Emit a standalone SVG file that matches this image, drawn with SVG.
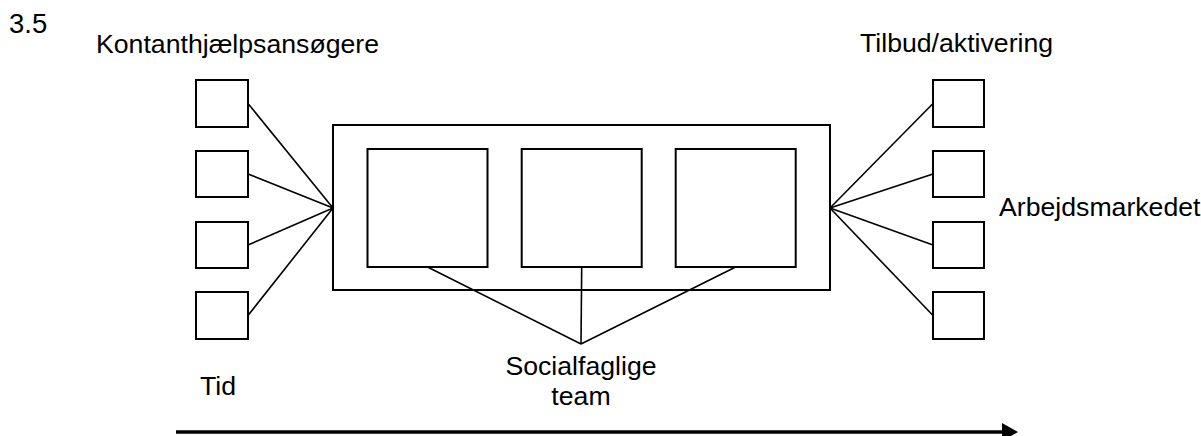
<svg xmlns="http://www.w3.org/2000/svg" width="1201" height="436" viewBox="0 0 1201 436">
<style>
text{font-family:"Liberation Sans",Arial,sans-serif;font-size:26.67px;fill:#000}
.box{fill:#fff;stroke:#000;stroke-width:2}
.con line{stroke:#000;stroke-width:1.6}
</style>
<defs>
<marker id="ah" markerWidth="16" markerHeight="20" refX="1" refY="10" orient="auto" markerUnits="userSpaceOnUse">
<path d="M0,1 L16,10 L0,19 Z" fill="#000"/>
</marker>
</defs>
<rect width="1201" height="436" fill="#fff"/>
<text x="9" y="33" style="font-size:27.5px">3.5</text>
<text x="96" y="53">Kontanthjælpsansøgere</text>
<text x="860" y="52">Tilbud/aktivering</text>
<text x="999" y="216">Arbejdsmarkedet</text>
<text x="200" y="395">Tid</text>
<text x="581" y="375" text-anchor="middle">Socialfaglige</text>
<text x="581" y="405" text-anchor="middle">team</text>
<g class="con">
<line x1="248" y1="103.5" x2="333" y2="208"/>
<line x1="248" y1="174" x2="333" y2="208"/>
<line x1="248" y1="245" x2="333" y2="208"/>
<line x1="248" y1="315.5" x2="333" y2="208"/>
<line x1="933" y1="103.5" x2="830" y2="208"/>
<line x1="933" y1="174" x2="830" y2="208"/>
<line x1="933" y1="245" x2="830" y2="208"/>
<line x1="933" y1="315.5" x2="830" y2="208"/>
<line x1="427.5" y1="267" x2="581" y2="344"/>
<line x1="581.7" y1="267" x2="581" y2="344"/>
<line x1="735.7" y1="267" x2="581" y2="344"/>
<line x1="176" y1="432" x2="1003" y2="432" style="stroke-width:3.5" marker-end="url(#ah)"/>
</g>
<g id="outer"><rect class="box" x="333" y="125" width="497" height="165" style="fill:none"/></g>
<g id="team1"><rect class="box" x="367.5" y="149" width="120" height="118"/></g>
<g id="team2"><rect class="box" x="521.7" y="149" width="120" height="118"/></g>
<g id="team3"><rect class="box" x="675.7" y="149" width="120" height="118"/></g>
<g id="l1"><rect class="box" x="196" y="80" width="52" height="47"/></g>
<g id="l2"><rect class="box" x="196" y="151" width="52" height="46"/></g>
<g id="l3"><rect class="box" x="196" y="222" width="52" height="46"/></g>
<g id="l4"><rect class="box" x="196" y="292" width="52" height="47"/></g>
<g id="r1"><rect class="box" x="933" y="80" width="51" height="47"/></g>
<g id="r2"><rect class="box" x="933" y="151" width="51" height="46"/></g>
<g id="r3"><rect class="box" x="933" y="222" width="51" height="46"/></g>
<g id="r4"><rect class="box" x="933" y="292" width="51" height="47"/></g>
</svg>
